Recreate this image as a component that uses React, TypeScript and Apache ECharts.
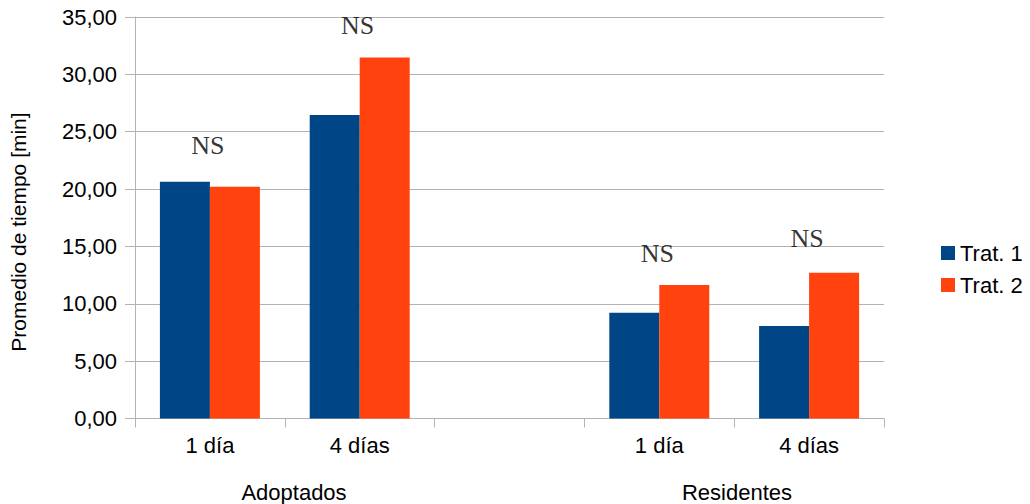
import React, { useEffect, useRef } from "react";
import * as echarts from "echarts";

const categories = ["1 día", "4 días", "", "1 día", "4 días"];
const seriesNames = ["Trat. 1", "Trat. 2"];
const trat1 = [20.64, 26.46, null, 9.22, 8.06];
const trat2 = [20.21, 31.46, null, 11.64, 12.71];
const nsLabels = ["NS", "NS", "", "NS", "NS"];
const nsLevels = [23.76, 34.22, null, 14.34, 15.65];
const groupLabels = ["Adoptados", "Residentes"];
const yAxisTitle = "Promedio de tiempo [min]";

const SANS = "'Liberation Sans', Arial, sans-serif";
const SERIF = "'Liberation Serif', 'Times New Roman', serif";
const GREY = "#b3b3b3";

export default function App() {
  const ref = useRef<HTMLDivElement>(null);

  useEffect(() => {
    if (!ref.current) return;
    const chart = echarts.init(ref.current, null, { renderer: "svg" });

    const nsData = nsLevels
      .map((v, i) => (v == null ? null : { value: [i, v], label: { formatter: nsLabels[i] } }))
      .filter((d) => d !== null);

    chart.setOption({
      animation: false,
      backgroundColor: "#ffffff",
      grid: { left: 135, right: 146, top: 17, bottom: 85.5, containLabel: false },
      legend: {
        orient: "vertical",
        left: 936,
        top: 237,
        icon: "rect",
        itemWidth: 14,
        itemHeight: 14,
        itemGap: 10,
        data: seriesNames,
        textStyle: { fontSize: 22, fontFamily: SANS, color: "#000", lineHeight: 22 },
      },
      xAxis: {
        type: "category",
        data: categories,
        boundaryGap: true,
        axisLine: { show: true, lineStyle: { color: GREY, width: 1 } },
        axisTick: { show: true, length: 9, interval: 0, alignWithLabel: false, lineStyle: { color: GREY } },
        axisLabel: { interval: 0, margin: 16, fontSize: 22, fontFamily: SANS, color: "#000" },
        splitLine: { show: false },
      },
      yAxis: {
        type: "value",
        min: 0,
        max: 35,
        interval: 5,
        axisLine: { show: true, lineStyle: { color: GREY, width: 1 } },
        axisTick: { show: true, length: 10, lineStyle: { color: GREY } },
        axisLabel: {
          margin: 18,
          fontSize: 22,
          fontFamily: SANS,
          color: "#000",
          formatter: (v: number) => v.toFixed(2).replace(".", ","),
        },
        splitLine: { show: true, lineStyle: { color: GREY, width: 1 } },
      },
      series: [
        {
          name: seriesNames[0],
          type: "bar",
          data: trat1,
          barWidth: 50,
          barGap: "0%",
          itemStyle: { color: "#004586" },
        },
        {
          name: seriesNames[1],
          type: "bar",
          data: trat2,
          barWidth: 50,
          barGap: "0%",
          itemStyle: { color: "#ff420e" },
        },
        {
          name: "NS",
          type: "scatter",
          symbolSize: 0,
          data: nsData,
          silent: true,
          label: {
            show: true,
            position: "inside",
            offset: [-2, 0],
            fontSize: 26,
            fontFamily: SERIF,
            color: "#000",
          },
        },
      ],
      graphic: [
        {
          type: "text",
          x: 18,
          y: 232,
          rotation: Math.PI / 2,
          style: { text: yAxisTitle, fontSize: 21, fontFamily: SANS, fill: "#000", align: "center", verticalAlign: "middle" },
        },
        {
          type: "text",
          x: 294,
          y: 492,
          style: { text: groupLabels[0], fontSize: 22, fontFamily: SANS, fill: "#000", align: "center", verticalAlign: "middle" },
        },
        {
          type: "text",
          x: 737,
          y: 492,
          style: { text: groupLabels[1], fontSize: 22, fontFamily: SANS, fill: "#000", align: "center", verticalAlign: "middle" },
        },
      ],
    });

    return () => chart.dispose();
  }, []);

  return (
    <div
      ref={ref}
      style={{ position: "absolute", left: 0, top: 0, width: 1030, height: 504 }}
    />
  );
}
